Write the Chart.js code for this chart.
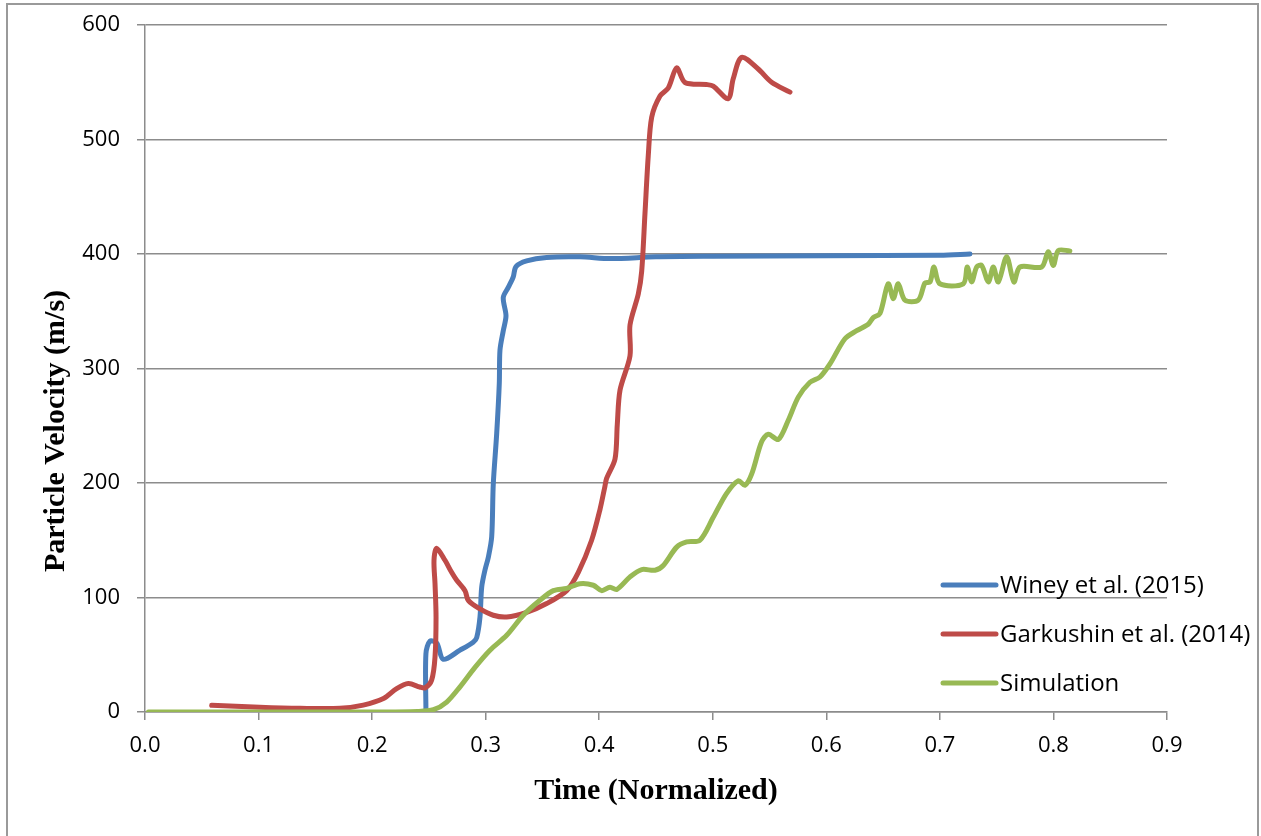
<!DOCTYPE html>
<html>
<head>
<meta charset="utf-8">
<script src="https://cdn.jsdelivr.net/npm/chart.js@4.4.1/dist/chart.umd.min.js"></script>
<style>
  html, body { margin: 0; padding: 0; background: #fff; overflow: hidden; }
  #frame { position: absolute; left: 6px; top: 3px; width: 1249px; height: 900px; border: 2px solid #9a9a9a; }
  #wrap { position: absolute; left: 0; top: 0; width: 1261px; height: 836px; }
</style>
</head>
<body>
<div id="frame"></div>
<div id="wrap"><canvas id="velocityChart" width="1261" height="836"></canvas></div>
<script>
// Winey et al. (2015)
const wineyTime = [0.2474, 0.2474, 0.251, 0.257, 0.2627, 0.2774, 0.289, 0.2921, 0.295, 0.2965, 0.2994, 0.3023, 0.3053,
    0.3067, 0.3097, 0.312, 0.3126, 0.3155, 0.3179, 0.3155, 0.320, 0.3243, 0.3267, 0.3361, 0.3537, 0.383, 0.41, 0.45,
    0.5, 0.6, 0.7, 0.7265];
const wineyVel = [0, 51, 62, 60, 46, 54, 61, 65, 83, 109, 124, 135, 153,
    199, 243, 287, 316, 333, 346, 362, 371, 380, 389, 394, 397, 397.5, 396, 397.5,
    398, 398.5, 399, 400];

// Garkushin et al. (2014)
const garkTime = [0.0587, 0.101, 0.1365, 0.1717, 0.1922, 0.21, 0.2216, 0.2319, 0.242, 0.2466, 0.2524, 0.2554, 0.2563,
    0.2554, 0.2545, 0.2568, 0.2642, 0.270, 0.2745, 0.2818, 0.2847, 0.295, 0.3067, 0.3185, 0.336, 0.3537, 0.3713,
    0.3816, 0.3933, 0.4007, 0.405, 0.4065, 0.4139, 0.4159, 0.4183, 0.4271, 0.4271, 0.4344, 0.4374, 0.4403, 0.4432,
    0.4462, 0.4535, 0.4608, 0.4682, 0.4755, 0.4946, 0.5004, 0.5136, 0.518, 0.5254, 0.54, 0.5518, 0.568];
const garkVel = [5.8, 4.1, 3.2, 3.2, 6, 11.7, 20.4, 24.8, 21.8, 21, 27.7, 48, 83,
    112, 132.5, 143, 132.5, 122, 115, 106, 97.5, 90, 84.5, 83, 87, 94.7, 106,
    122, 150, 177, 197, 204, 221, 251, 281, 311, 338, 365, 385, 435.6, 486,
    519.5, 538, 545, 562.6, 549.8, 548, 546.6, 535.7, 553, 571.7, 561.6, 550, 541.4];

// Simulation
const simTime = [0.003, 0.1, 0.2, 0.24, 0.254, 0.2657, 0.2774, 0.2906, 0.3038, 0.3185, 0.3331, 0.3478, 0.3596,
    0.3713, 0.383, 0.3948, 0.4021, 0.4095, 0.4154, 0.4271, 0.4374, 0.4491, 0.4564, 0.4682, 0.477, 0.4887, 0.5004,
    0.5122, 0.5225, 0.5283, 0.5343, 0.543, 0.5489, 0.5577, 0.5665, 0.5753, 0.5856, 0.5944, 0.6032, 0.6164, 0.6267,
    0.6369, 0.6413, 0.6472, 0.6545, 0.659, 0.6633, 0.6692, 0.681, 0.6869, 0.6913, 0.6948, 0.70, 0.7206, 0.7241,
    0.728, 0.7324, 0.7368, 0.7427, 0.747, 0.7514, 0.7588, 0.7652, 0.7705, 0.7896, 0.7954, 0.7999, 0.8042, 0.8145];
const simVel = [0, 0, 0, 0.5, 2, 8.7, 22, 39, 54, 67, 84.5, 97.6, 106,
    108, 112, 110.7, 106, 109, 107, 118, 124.4, 123.8, 128, 144, 148.5, 150, 170,
    191, 202, 198, 208, 236, 242.6, 238, 254.8, 275, 288, 292.6, 304, 326, 333,
    338.7, 344.5, 348, 374, 361, 374, 359.7, 359.7, 374.8, 375.6, 388.7, 374, 374, 388.7,
    375.6, 388.7, 390, 375.6, 388.7, 375.6, 397.5, 375.6, 388.7, 388.7, 401.9, 390, 403, 402.7];

const seriesLabels = ['Winey et al. (2015)', 'Garkushin et al. (2014)', 'Simulation'];
const seriesColors = ['#4a7ebb', '#be4b48', '#98b954'];

const toPoints = (xs, ys) => xs.map((x, i) => ({ x: x, y: ys[i] }));

const gridColor = '#8c8c8c';
const tickFont = { family: 'Open Sans', size: 22 };

// legend drawn inside the plot, lower right
const insideLegend = {
    id: 'insideLegend',
    afterDraw(chart) {
        const c = chart.ctx;
        const rows = [585, 634, 683];
        c.save();
        c.font = '24px "Open Sans"';
        c.textBaseline = 'middle';
        c.textAlign = 'left';
        chart.data.datasets.forEach((ds, i) => {
            c.strokeStyle = ds.borderColor;
            c.lineWidth = 5;
            c.lineCap = 'round';
            c.beginPath();
            c.moveTo(943, rows[i]);
            c.lineTo(996, rows[i]);
            c.stroke();
            c.fillStyle = '#000';
            c.fillText(ds.label, 1000, rows[i] + 1);
        });
        c.restore();
    }
};

// y axis title sits a bit below the plot centre in the original
const yTitle = {
    id: 'yTitle',
    afterDraw(chart) {
        const c = chart.ctx;
        c.save();
        c.translate(56, 431);
        c.rotate(-Math.PI / 2);
        c.font = 'bold 30px "Liberation Serif"';
        c.fillStyle = '#000';
        c.textAlign = 'center';
        c.textBaseline = 'middle';
        c.fillText('Particle Velocity (m/s)', 0, 0);
        c.restore();
    }
};

const ctx = document.getElementById('velocityChart').getContext('2d');
const velocityChart = new Chart(ctx, {
    type: 'scatter',
    data: {
        datasets: [{
            label: seriesLabels[0],
            data: toPoints(wineyTime, wineyVel),
            borderColor: seriesColors[0],
            order: 3
        }, {
            label: seriesLabels[1],
            data: toPoints(garkTime, garkVel),
            borderColor: seriesColors[1],
            order: 2
        }, {
            label: seriesLabels[2],
            data: toPoints(simTime, simVel),
            borderColor: seriesColors[2],
            order: 1
        }]
    },
    options: {
        responsive: false,
        animation: false,
        showLine: true,
        elements: {
            point: { radius: 0, hoverRadius: 0 },
            line: { borderWidth: 5, tension: 0.3, fill: false, borderCapStyle: 'round', borderJoinStyle: 'round' }
        },
        layout: { padding: { left: 0, top: 25, right: 94, bottom: 0 } },
        plugins: {
            legend: { display: false },
            tooltip: { enabled: false }
        },
        scales: {
            x: {
                type: 'linear',
                min: 0,
                max: 0.9,
                afterFit: (scale) => { scale.height = 124; },
                ticks: {
                    stepSize: 0.1,
                    color: '#000',
                    font: tickFont,
                    padding: 13,
                    maxRotation: 0,
                    callback: (v) => v.toFixed(1)
                },
                grid: { drawOnChartArea: false, drawTicks: true, tickLength: 8, color: gridColor, lineWidth: 1.5 },
                border: { color: gridColor, width: 1.5 },
                title: {
                    display: true,
                    text: 'Time (Normalized)',
                    color: '#000',
                    font: { family: 'Liberation Serif', size: 30, weight: 'bold' },
                    padding: { top: 4, bottom: 27 }
                }
            },
            y: {
                min: 0,
                max: 600,
                afterFit: (scale) => {
                    scale.width = 145;
                    scale.paddingTop = 0;
                    scale.paddingBottom = 0;
                },
                ticks: { stepSize: 100, color: '#000', font: tickFont, padding: 17 },
                grid: { drawTicks: true, tickLength: 8, color: gridColor, lineWidth: 1.5 },
                border: { color: gridColor, width: 1.5 }
            }
        }
    },
    plugins: [insideLegend, yTitle]
});
</script>
</body>
</html>
